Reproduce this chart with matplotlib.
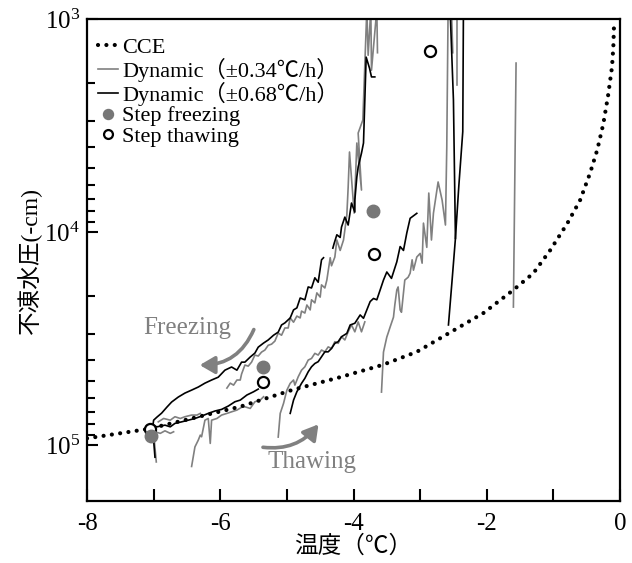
import numpy as np
import matplotlib.pyplot as plt
from matplotlib.patches import FancyArrowPatch

plt.rcParams['font.family'] = ['Liberation Serif', 'Noto Sans CJK JP']
plt.rcParams['mathtext.fontset'] = 'stix'
plt.rcParams['axes.unicode_minus'] = False

# CCE (dotted)
cce_t = [-8.0, -7.08, -5.70, -4.91, -4.20, -3.56, -3.05, -2.05, -1.60, -1.30,
         -1.05, -0.79, -0.60, -0.45, -0.34, -0.25, -0.18, -0.12, -0.10, -0.09]
cce_h = [9.3e4, 8.4e4, 6.6e4, 5.5e4, 4.8e4, 4.2e4, 3.65e4, 2.4e4, 1.87e4, 1.56e4,
         1.22e4, 9.1e3, 7.1e3, 5.3e3, 4.1e3, 3.1e3, 2.3e3, 1.68e3, 1.35e3, 1.07e3]

# Dynamic +-0.68 (black)
blk_frz1_t = [-3.68, -3.73, -3.76, -3.81, -3.83, -3.85, -3.88, -3.93, -3.95, -3.98,
              -3.98, -4.03, -4.08, -4.13, -4.18, -4.20, -4.25, -4.29, -4.31]
blk_frz1_h = [1.87e3, 1.87e3, 1.70e3, 1.51e3, 2.40e3, 3.82e3, 4.26e3, 4.95e3, 5.52e3, 7.08e3,
              8.06e3, 7.31e3, 9.27e3, 8.51e3, 9.48e3, 1.06e4, 1.03e4, 1.13e4, 1.19e4]
blk_frz2_t = [-4.45, -4.48, -4.53, -4.58, -4.63, -4.68, -4.73, -4.80, -4.85, -4.90,
              -4.95, -5.03, -5.08, -5.13, -5.20, -5.28, -5.35, -5.43, -5.48, -5.55,
              -5.63, -5.68, -5.75, -5.83, -5.93, -6.03, -6.13, -6.23, -6.33, -6.43,
              -6.53, -6.63, -6.73, -6.80, -6.88, -6.95, -7.00, -7.02, -7.00, -6.98]
blk_frz2_h = [1.32e4, 1.35e4, 1.72e4, 1.64e4, 1.83e4, 1.81e4, 2.08e4, 2.04e4, 2.27e4, 2.32e4,
              2.53e4, 2.67e4, 2.73e4, 2.95e4, 3.05e4, 3.21e4, 3.32e4, 3.47e4, 3.70e4, 3.86e4,
              4.08e4, 4.08e4, 4.45e4, 4.30e4, 4.45e4, 4.80e4, 4.95e4, 5.12e4, 5.34e4, 5.52e4,
              5.70e4, 5.95e4, 6.28e4, 6.63e4, 7.08e4, 7.39e4, 7.64e4, 8.5e4, 9.5e4, 1.14e5]
blk_thw1_t = [-7.10, -7.03, -6.95, -6.83, -6.75, -6.68, -6.58, -6.48, -6.38, -6.28,
              -6.18, -6.08, -5.98, -5.88, -5.78, -5.70, -5.60, -5.50, -5.43]
blk_thw1_h = [8.51e4, 8.06e4, 8.21e4, 8.06e4, 8.21e4, 7.91e4, 7.78e4, 7.64e4, 7.50e4, 7.31e4,
              7.10e4, 6.92e4, 6.80e4, 6.56e4, 6.26e4, 6.15e4, 5.82e4, 5.62e4, 5.46e4]
blk_thw2_t = [-4.95, -4.90, -4.85, -4.78, -4.73, -4.68, -4.63, -4.58, -4.53, -4.48,
              -4.43, -4.38, -4.33, -4.28, -4.23, -4.18, -4.10, -4.05, -3.98, -3.90,
              -3.85, -3.80, -3.75, -3.70, -3.65, -3.60, -3.55, -3.50, -3.43, -3.35,
              -3.30, -3.25, -3.20, -3.15, -3.05]
blk_thw2_h = [7.10e4, 6.15e4, 5.62e4, 5.13e4, 4.86e4, 4.53e4, 4.29e4, 4.14e4, 4.06e4, 3.85e4,
              3.65e4, 3.65e4, 3.52e4, 3.33e4, 3.27e4, 3.10e4, 2.99e4, 2.73e4, 2.68e4, 2.45e4,
              2.54e4, 2.32e4, 2.12e4, 2.05e4, 2.08e4, 1.87e4, 1.68e4, 1.54e4, 1.65e4, 1.38e4,
              1.17e4, 1.22e4, 1.01e4, 8.62e3, 8.17e3]
blk_thw3_t = [-2.575, -2.52, -2.47, -2.42, -2.36, -2.35]
blk_thw3_h = [2.73e4, 1.68e4, 1.07e4, 6.13e3, 3.38e3, 9.0e2]
blk_thw4_t = [-2.47, -2.50, -2.55]
blk_thw4_h = [1.07e4, 2.40e3, 9.0e2]

# Dynamic +-0.34 (gray)
gry_frz_t = [-3.64, -3.65, -3.73, -3.74, -3.78, -3.80, -3.86, -3.93, -3.88, -3.95,
             -3.99, -4.06, -4.08, -4.10, -4.15, -4.20, -4.25, -4.28, -4.33, -4.35,
             -4.40, -4.43, -4.48, -4.50, -4.55, -4.58, -4.63, -4.65, -4.70, -4.73,
             -4.78, -4.80, -4.85, -4.90, -4.95, -4.98, -5.03, -5.08, -5.13, -5.18,
             -5.23, -5.28, -5.33, -5.38, -5.43, -5.48, -5.53, -5.58, -5.63, -5.68,
             -5.70, -5.75, -5.80, -5.85, -5.90]
gry_frz_h = [1.44e3, 9.0e2, 1.74e3, 9.0e2, 1.48e3, 9.0e2, 2.98e3, 3.43e3, 6.35e3, 3.82e3,
             8.15e3, 4.21e3, 6.15e3, 8.32e3, 1.09e4, 1.22e4, 1.09e4, 1.31e4, 1.44e4, 1.32e4,
             1.68e4, 1.83e4, 1.77e4, 2.02e4, 1.93e4, 2.15e4, 2.08e4, 2.32e4, 2.20e4, 2.40e4,
             2.35e4, 2.53e4, 2.48e4, 2.65e4, 2.53e4, 2.82e4, 2.82e4, 3.05e4, 2.98e4, 3.25e4,
             3.36e4, 3.40e4, 3.58e4, 3.66e4, 3.82e4, 3.78e4, 4.08e4, 4.26e4, 4.21e4, 4.64e4,
             4.95e4, 4.95e4, 5.23e4, 5.12e4, 5.40e4]
gry_low_t = [-6.93, -6.85, -6.75, -6.68, -6.60, -6.53, -6.43, -6.35, -6.30]
gry_low_h = [7.78e4, 7.50e4, 7.64e4, 7.36e4, 7.50e4, 7.36e4, 7.23e4, 7.23e4, 7.10e4]
gry_drop_t = [-7.00, -6.96]
gry_drop_h = [8.81e4, 1.20e5]
gry_short_t = [-6.98, -6.90, -6.83, -6.75, -6.70]
gry_short_h = [8.66e4, 8.81e4, 8.57e4, 8.81e4, 8.66e4]
gry_thw1_t = [-6.43, -6.38, -6.33, -6.30, -6.28, -6.25, -6.23, -6.18, -6.15, -6.13,
              -6.05, -5.98, -5.90, -5.83, -5.75, -5.68, -5.63, -5.55, -5.48, -5.40, -5.35]
gry_thw1_h = [1.26e5, 1.02e5, 9.48e4, 8.98e4, 9.14e4, 8.21e4, 7.64e4, 7.50e4, 9.82e4, 7.64e4,
              7.50e4, 7.23e4, 7.10e4, 6.98e4, 6.85e4, 6.65e4, 6.61e4, 6.73e4, 6.26e4, 6.15e4, 5.93e4]
gry_thw2_t = [-5.13, -5.10, -5.05, -5.00, -4.95, -4.90, -4.88, -4.83, -4.78, -4.73,
              -4.68, -4.63, -4.58, -4.53, -4.48, -4.43, -4.38, -4.33, -4.28, -4.23,
              -4.18, -4.13, -4.08, -4.03, -3.98, -3.93, -3.88, -3.83]
gry_thw2_h = [9.17e4, 7.10e4, 6.37e4, 5.52e4, 5.13e4, 4.95e4, 5.23e4, 4.78e4, 4.45e4, 4.29e4,
              3.99e4, 3.92e4, 3.71e4, 3.78e4, 3.58e4, 3.65e4, 3.46e4, 3.52e4, 3.27e4, 3.33e4,
              3.10e4, 3.21e4, 2.94e4, 2.73e4, 2.94e4, 2.64e4, 2.94e4, 2.64e4]
gry_thw3_t = [-3.58, -3.55, -3.50, -3.48, -3.45, -3.40, -3.38, -3.35, -3.33, -3.30,
              -3.28, -3.25, -3.23, -3.18, -3.15, -3.12, -3.10, -3.05, -3.00, -2.97,
              -2.95, -2.90, -2.87, -2.83, -2.80, -2.73, -2.67, -2.62, -2.60, -2.58]
gry_thw3_h = [5.64e4, 3.66e4, 3.11e4, 2.98e4, 2.79e4, 2.51e4, 2.20e4, 1.87e4, 1.81e4, 2.32e4,
              2.38e4, 1.93e4, 1.68e4, 1.63e4, 1.56e4, 1.35e4, 1.51e4, 1.31e4, 1.26e4, 1.40e4,
              9.08e3, 1.18e4, 6.56e3, 1.09e4, 8.15e3, 5.82e3, 7.08e3, 9.27e3, 3.99e3, 9.0e2]
gry_spk1_t = [-2.53, -2.51]
gry_spk1_h = [9.0e2, 1.44e3]
gry_spk2_t = [-2.44, -2.44]
gry_spk2_h = [9.0e2, 2.04e3]
gry_vert_t = [-1.56, -1.60]
gry_vert_h = [1.61e3, 2.25e4]

# Step tests
stepf_t = [-7.04, -5.36, -3.70]
stepf_h = [9.08e4, 4.29e4, 7.97e3]
stept_t = [-7.05, -5.36, -3.69, -2.85]
stept_h = [8.36e4, 5.04e4, 1.27e4, 1.42e3]

GRAY = '#808080'

fig = plt.figure(figsize=(6.32, 5.63), dpi=100)
ax = fig.add_axes([87 / 632, 1 - 501 / 563, 533 / 632, 482 / 563])
ax.set_yscale('log')

lw = 1.2
for t, h in [(gry_low_t, gry_low_h), (gry_drop_t, gry_drop_h), (gry_short_t, gry_short_h),
             (gry_thw1_t, gry_thw1_h), (gry_thw2_t, gry_thw2_h), (gry_thw3_t, gry_thw3_h),
             (gry_spk1_t, gry_spk1_h), (gry_spk2_t, gry_spk2_h), (gry_vert_t, gry_vert_h)]:
    ax.plot(t, h, color=GRAY, lw=lw)
ax.plot(gry_frz_t, gry_frz_h, color=GRAY, lw=lw, label='Dynamic（±0.34℃/h）')

for t, h in [(blk_frz2_t, blk_frz2_h), (blk_thw1_t, blk_thw1_h), (blk_thw2_t, blk_thw2_h),
             (blk_thw3_t, blk_thw3_h), (blk_thw4_t, blk_thw4_h)]:
    ax.plot(t, h, color='black', lw=lw)
ax.plot(blk_frz1_t, blk_frz1_h, color='black', lw=lw, label='Dynamic（±0.68℃/h）')

ax.plot(cce_t, cce_h, color='black', lw=3.0, linestyle=(0, (0.01, 2.0)),
        dash_capstyle='round', label='CCE', zorder=3)

ax.plot(stept_t, stept_h, 'o', mfc='white', mec='black', mew=1.6, ms=8,
        label='Step thawing', zorder=4)
ax.plot(stepf_t, stepf_h, 'o', color='#777777', ms=9, label='Step freezing', zorder=5)

# arrows and notes
ax.add_patch(FancyArrowPatch((-5.48, 2.79e4), (-6.35, 4.21e4), connectionstyle='arc3,rad=-0.35',
                             arrowstyle='-|>,head_length=6,head_width=3.5', color=GRAY, lw=2.6,
                             mutation_scale=1.5))
ax.add_patch(FancyArrowPatch((-5.40, 1.02e5), (-4.50, 7.80e4), connectionstyle='arc3,rad=0.3',
                             arrowstyle='-|>,head_length=6,head_width=3.5', color=GRAY, lw=2.6,
                             mutation_scale=1.5))
ax.text(-6.50, 2.82e4, 'Freezing', color=GRAY, fontsize=18, ha='center', va='center')
ax.text(-4.62, 1.20e5, 'Thawing', color=GRAY, fontsize=18, ha='center', va='center')

ax.set_xlim(-8, 0)
ax.set_ylim(1.83e5, 1e3)
ax.set_xticks([-8, -6, -4, -2, 0])
ax.set_xticks([-7, -5, -3, -1], minor=True)
ax.tick_params(axis='both', which='both', direction='in', top=False, right=False,
               labelsize=18, width=1.5)
ax.tick_params(axis='x', which='both', length=9, pad=9)
ax.tick_params(axis='y', which='major', length=8, pad=5)
ax.tick_params(axis='y', which='minor', length=6)
for s in ax.spines.values():
    s.set_linewidth(1.6)

ax.set_xlabel('温度（℃）', fontsize=17, labelpad=0)
ax.set_ylabel('不凍水圧(-cm)', fontsize=17, labelpad=2)

handles, labels = ax.get_legend_handles_labels()
order = ['CCE', 'Dynamic（±0.34℃/h）', 'Dynamic（±0.68℃/h）', 'Step freezing', 'Step thawing']
hmap = dict(zip(labels, handles))
ax.legend([hmap[k] for k in order], order, loc='upper left', frameon=False, fontsize=16,
          handlelength=0.9, handletextpad=0.2, labelspacing=0.0, borderaxespad=0.0,
          borderpad=0.0, markerscale=0.8, bbox_to_anchor=(0.02, 0.962))

fig.savefig('out.png', dpi=100)
